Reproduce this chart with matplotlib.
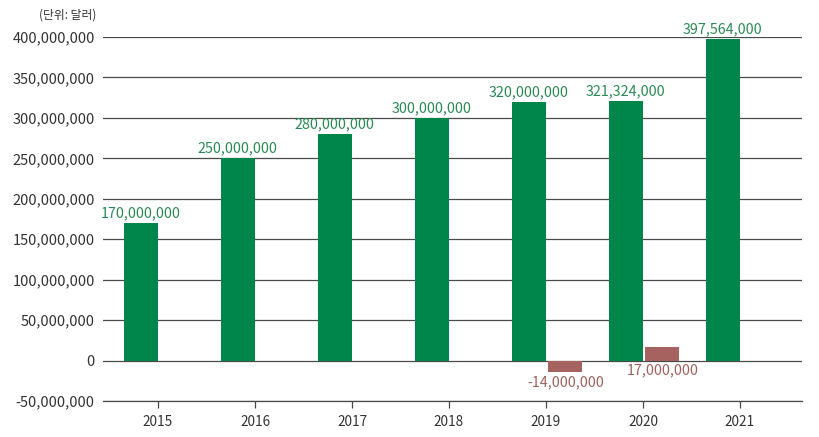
import matplotlib
matplotlib.use("Agg")
from matplotlib import pyplot as plt
from matplotlib.ticker import FuncFormatter

years = ["2015", "2016", "2017", "2018", "2019", "2020", "2021"]
green_vals = [170000000, 250000000, 280000000, 300000000, 320000000, 321324000, 397564000]
red_years = ["2019", "2020"]
red_vals = [-14000000, 17000000]
yticks = [-50000000, 0, 50000000, 100000000, 150000000, 200000000,
          250000000, 300000000, 350000000, 400000000]

plt.rcParams['font.family'] = ['Noto Sans CJK KR', 'DejaVu Sans']

green = '#00854a'
red = '#a6625f'
green_txt = '#2a8a55'
red_txt = '#a0615d'
grid_c = '#4a4a4a'

fig = plt.figure(figsize=(8.2, 4.37), dpi=100)
ax = fig.add_axes([0.1256, 0.0824, 0.978 - 0.1256, 0.9153 - 0.0824])

w = 0.35
xs = list(range(len(years)))
gx = [x - 0.178 for x in xs]
ax.bar(gx, green_vals, width=w, color=green, zorder=3)
for x, v in zip(gx, green_vals):
    ax.text(x, v + 3500000, f"{v:,}", ha='center', va='bottom', color=green_txt,
            fontsize=10.3, zorder=4)

rx = [years.index(y) + 0.2 for y in red_years]
ax.bar(rx, red_vals, width=w, color=red, zorder=3)
for x, v in zip(rx, red_vals):
    base = min(v, 0)
    ax.text(x, base - 4000000, f"{v:,}", ha='center', va='top', color=red_txt,
            fontsize=10.3, zorder=4)

ax.set_ylim(-50000000, 400000000)
ax.set_xlim(-0.567, 6.639)
ax.set_yticks(yticks)
ax.yaxis.set_major_formatter(FuncFormatter(lambda v, p: f"{int(v):,}"))
ax.yaxis.grid(True, color=grid_c, linewidth=0.9, zorder=1)
ax.set_xticks(xs)
ax.set_xticklabels(years)
ax.tick_params(axis='y', length=0, pad=6, labelsize=10.5, labelcolor='#333333')
ax.tick_params(axis='x', length=5, width=0.9, color=grid_c, pad=5,
               labelsize=9.8, labelcolor='#333333')
for s in ['top', 'right', 'left']:
    ax.spines[s].set_visible(False)
ax.spines['bottom'].set_color(grid_c)
ax.spines['bottom'].set_linewidth(0.9)

fig.text(0.117, 0.966, "(단위: 달러)", ha='right', va='center', fontsize=8.5,
         color='#333333')

fig.savefig("out.png", dpi=100)
